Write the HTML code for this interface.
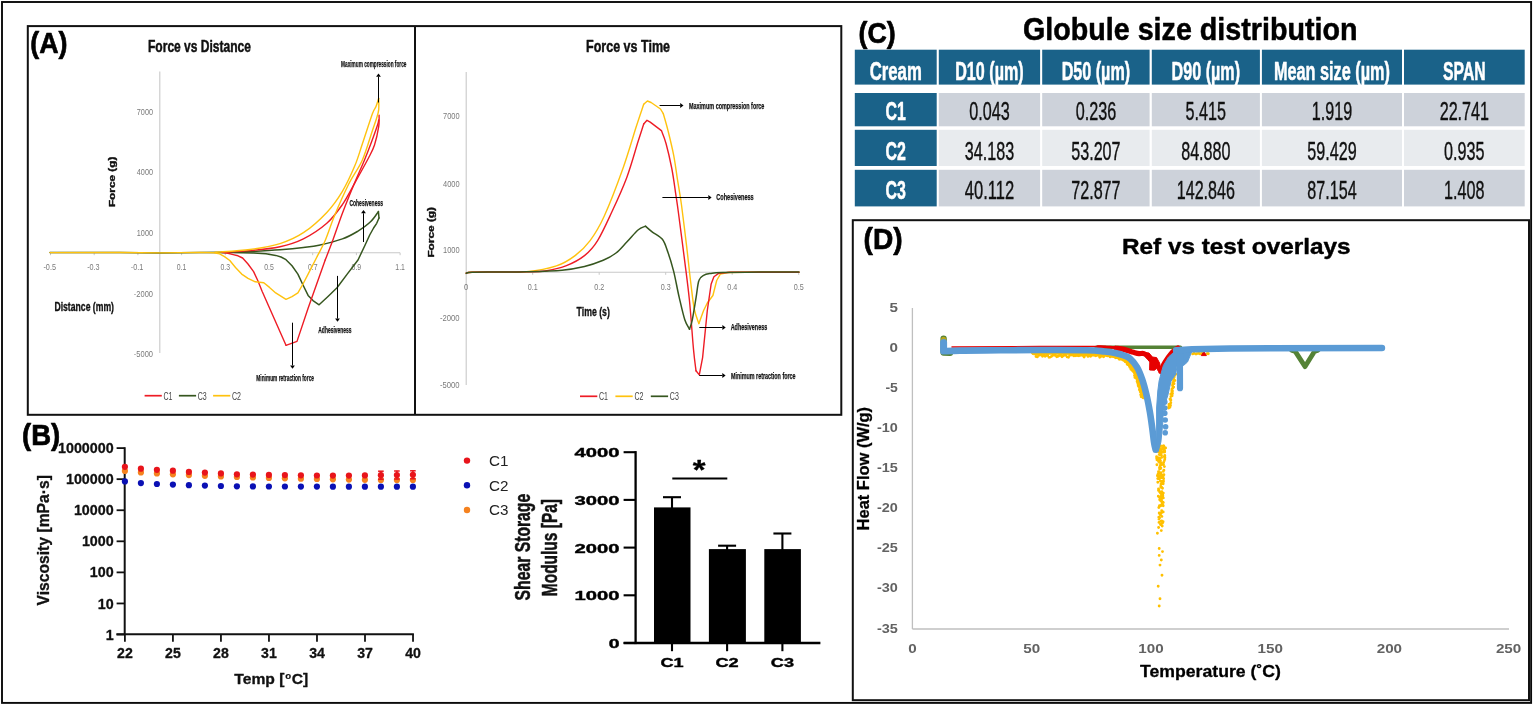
<!DOCTYPE html>
<html><head><meta charset="utf-8"><title>Figure</title>
<style>
html,body{margin:0;padding:0;background:#fff;}
body{width:1533px;height:705px;overflow:hidden;font-family:'Liberation Sans', sans-serif;}
svg{display:block;font-family:"Liberation Sans",sans-serif;filter:blur(0.4px);}
</style></head><body>
<svg width="1533" height="705" viewBox="0 0 1533 705">
<rect width="1533" height="705" fill="#ffffff"/>
<rect x="2" y="2" width="1529.1" height="700.9" fill="none" stroke="#0a0a0a" stroke-width="1.9"/>
<rect x="27.8" y="26.1" width="813.5" height="388.7" fill="none" stroke="#111" stroke-width="2"/>
<line x1="415.00" y1="26.00" x2="415.00" y2="415.00" stroke="#111" stroke-width="2" />
<rect x="852.8" y="220.2" width="676.2" height="480" fill="none" stroke="#111" stroke-width="2"/>
<text x="30.20" y="52.90" font-size="30" fill="#000" font-weight="bold" textLength="37.30" lengthAdjust="spacingAndGlyphs" stroke="#000" stroke-width="0.7" stroke-linejoin="round" >(A)</text>
<text x="148.00" y="51.70" font-size="17" fill="#111" font-weight="bold" textLength="103.00" lengthAdjust="spacingAndGlyphs" stroke="#111" stroke-width="0.5" stroke-linejoin="round" >Force vs Distance</text>
<line x1="159.80" y1="71.50" x2="159.80" y2="353.00" stroke="#c8c8c8" stroke-width="1.1" />
<line x1="50.00" y1="252.70" x2="400.00" y2="252.70" stroke="#c8c8c8" stroke-width="1.1" />
<line x1="50.50" y1="252.70" x2="50.50" y2="255.20" stroke="#c8c8c8" stroke-width="1" />
<line x1="94.20" y1="252.70" x2="94.20" y2="255.20" stroke="#c8c8c8" stroke-width="1" />
<line x1="137.90" y1="252.70" x2="137.90" y2="255.20" stroke="#c8c8c8" stroke-width="1" />
<line x1="181.60" y1="252.70" x2="181.60" y2="255.20" stroke="#c8c8c8" stroke-width="1" />
<line x1="225.30" y1="252.70" x2="225.30" y2="255.20" stroke="#c8c8c8" stroke-width="1" />
<line x1="269.00" y1="252.70" x2="269.00" y2="255.20" stroke="#c8c8c8" stroke-width="1" />
<line x1="312.70" y1="252.70" x2="312.70" y2="255.20" stroke="#c8c8c8" stroke-width="1" />
<line x1="356.40" y1="252.70" x2="356.40" y2="255.20" stroke="#c8c8c8" stroke-width="1" />
<line x1="400.10" y1="252.70" x2="400.10" y2="255.20" stroke="#c8c8c8" stroke-width="1" />
<text x="136.80" y="114.70" font-size="9.5" fill="#7a7a7a" textLength="16.20" lengthAdjust="spacingAndGlyphs" >7000</text>
<text x="136.80" y="174.90" font-size="9.5" fill="#7a7a7a" textLength="16.20" lengthAdjust="spacingAndGlyphs" >4000</text>
<text x="136.80" y="235.60" font-size="9.5" fill="#7a7a7a" textLength="16.20" lengthAdjust="spacingAndGlyphs" >1000</text>
<text x="133.80" y="296.80" font-size="9.5" fill="#7a7a7a" textLength="19.20" lengthAdjust="spacingAndGlyphs" >-2000</text>
<text x="133.80" y="357.00" font-size="9.5" fill="#7a7a7a" textLength="19.20" lengthAdjust="spacingAndGlyphs" >-5000</text>
<text x="43.45" y="270.20" font-size="9.5" fill="#7a7a7a" textLength="12.50" lengthAdjust="spacingAndGlyphs" >-0.5</text>
<text x="87.15" y="270.20" font-size="9.5" fill="#7a7a7a" textLength="12.50" lengthAdjust="spacingAndGlyphs" >-0.3</text>
<text x="130.85" y="270.20" font-size="9.5" fill="#7a7a7a" textLength="12.50" lengthAdjust="spacingAndGlyphs" >-0.1</text>
<text x="176.80" y="270.20" font-size="9.5" fill="#7a7a7a" textLength="9.60" lengthAdjust="spacingAndGlyphs" >0.1</text>
<text x="220.50" y="270.20" font-size="9.5" fill="#7a7a7a" textLength="9.60" lengthAdjust="spacingAndGlyphs" >0.3</text>
<text x="264.20" y="270.20" font-size="9.5" fill="#7a7a7a" textLength="9.60" lengthAdjust="spacingAndGlyphs" >0.5</text>
<text x="307.90" y="270.20" font-size="9.5" fill="#7a7a7a" textLength="9.60" lengthAdjust="spacingAndGlyphs" >0.7</text>
<text x="351.60" y="270.20" font-size="9.5" fill="#7a7a7a" textLength="9.60" lengthAdjust="spacingAndGlyphs" >0.9</text>
<text x="395.30" y="270.20" font-size="9.5" fill="#7a7a7a" textLength="9.60" lengthAdjust="spacingAndGlyphs" >1.1</text>
<text x="54.40" y="310.70" font-size="12.6" fill="#111" font-weight="bold" textLength="59.60" lengthAdjust="spacingAndGlyphs" stroke="#111" stroke-width="0.35" stroke-linejoin="round" >Distance (mm)</text>
<text x="115.20" y="207.10" font-size="9" fill="#111" font-weight="bold" textLength="50.60" lengthAdjust="spacingAndGlyphs" transform="rotate(-90 115.20 207.10)" stroke="#111" stroke-width="0.35" stroke-linejoin="round" >Force (g)</text>
<path d="M50.0 252.6 L120.0 252.5 L160.0 252.9 L200.0 252.4 L222.0 252.3 L253.6 252.9 L266.0 253.8 L275.7 255.4 L281.0 257.0 L286.0 259.7 L292.0 265.8 L297.9 274.1 L303.0 285.0 L308.1 295.4 L313.0 300.6 L319.1 304.8 L328.0 296.5 L337.0 287.8 L347.2 274.1 L358.0 260.0 L365.0 245.2 L369.7 235.0 L373.6 228.0 L376.7 223.3 L379.0 218.0" fill="none" stroke="#36561f" stroke-width="1.5" stroke-linejoin="round" stroke-linecap="round" />
<path d="M379.0 218.0 L378.4 211.6" fill="none" stroke="#36561f" stroke-width="1.5" stroke-linejoin="round" stroke-linecap="round" />
<path d="M222.0 252.6 C226.7 252.4 240.3 252.1 250.0 251.6 C259.7 251.1 271.1 250.5 280.0 249.8 C288.9 249.1 296.9 248.3 303.4 247.5 C309.9 246.7 312.5 246.6 319.0 245.2 C325.5 243.8 335.9 241.2 342.4 238.9 C348.9 236.6 353.3 233.9 358.0 231.1 C362.7 228.2 367.1 225.1 370.5 221.8 C373.9 218.6 377.1 213.3 378.4 211.6" fill="none" stroke="#36561f" stroke-width="1.5" stroke-linejoin="round" stroke-linecap="round" />
<path d="M222.0 252.3 L228.0 253.2 L233.2 254.6 L238.0 255.8 L242.6 258.0 L248.0 264.0 L253.6 271.6 L258.0 281.0 L262.1 291.2 L286.0 345.3" fill="none" stroke="#ee1c25" stroke-width="1.4" stroke-linejoin="round" stroke-linecap="round" />
<path d="M286.0 345.3 L297.0 341.4 L308.1 308.2 L325.2 260.0" fill="none" stroke="#ee1c25" stroke-width="1.4" stroke-linejoin="round" stroke-linecap="round" />
<path d="M325.2 260.0 C326.5 256.6 330.1 247.5 333.0 239.7 C335.9 231.9 339.0 222.2 342.4 213.2 C345.8 204.2 349.6 194.8 353.3 185.9 C357.0 177.0 361.5 167.3 364.5 160.0 C367.5 152.7 369.3 147.9 371.5 142.0 C373.7 136.1 376.5 128.2 377.7 124.5 C378.9 120.8 378.5 120.8 378.6 120.0" fill="none" stroke="#ee1c25" stroke-width="1.4" stroke-linejoin="round" stroke-linecap="round" />
<path d="M222.0 252.3 C226.7 252.0 240.3 251.5 250.0 250.6 C259.7 249.7 271.1 248.6 280.0 246.7 C288.9 244.8 295.6 242.8 303.4 238.9 C311.2 235.0 320.3 229.0 326.8 223.3 C333.3 217.6 337.7 211.3 342.4 204.6 C347.1 197.8 350.5 190.6 354.9 182.8 C359.2 175.0 365.2 164.3 368.5 158.0 C371.8 151.7 372.8 150.2 374.5 145.0 C376.2 139.8 377.9 131.7 378.7 126.7 C379.5 121.8 379.0 117.2 379.1 115.3" fill="none" stroke="#ee1c25" stroke-width="1.4" stroke-linejoin="round" stroke-linecap="round" />
<path d="M50.0 252.6 L120.0 252.5 L160.0 252.9 L200.0 252.4 L214.0 252.8 L219.6 253.9 L224.5 256.6 L229.8 260.5 L235.5 267.5 L241.7 274.1 L248.0 278.4 L255.3 281.8 L263.8 282.7 L269.5 287.4 L275.7 292.9 L286.0 299.3 L292.0 296.6 L297.9 292.9 L303.0 284.0 L308.1 274.1 L317.4 256.0" fill="none" stroke="#ffc20e" stroke-width="1.4" stroke-linejoin="round" stroke-linecap="round" />
<path d="M317.4 256.0 C318.7 253.4 322.3 247.2 325.2 240.5 C328.1 233.8 330.7 224.9 334.6 215.5 C338.5 206.1 344.0 193.6 348.6 184.3 C353.2 175.1 358.4 168.9 362.4 160.0 C366.3 151.1 369.9 137.9 372.3 130.9 C374.7 123.9 375.5 121.8 376.6 118.2 C377.7 114.7 378.4 112.9 378.7 109.6 C379.0 106.3 378.7 100.2 378.7 98.3" fill="none" stroke="#ffc20e" stroke-width="1.4" stroke-linejoin="round" stroke-linecap="round" />
<path d="M215.0 252.3 C220.8 251.8 239.2 250.9 250.0 249.5 C260.8 248.1 271.1 246.4 280.0 243.6 C288.9 240.8 295.6 237.9 303.4 232.7 C311.2 227.5 320.3 219.3 326.8 212.4 C333.3 205.5 337.7 199.1 342.4 191.3 C347.1 183.5 351.6 173.5 354.9 165.6 C358.2 157.7 359.5 152.3 362.4 143.7 C365.3 135.1 370.1 120.1 372.3 113.9 C374.6 107.8 374.8 109.4 375.9 106.8 C377.0 104.2 378.2 99.7 378.7 98.3" fill="none" stroke="#ffc20e" stroke-width="1.4" stroke-linejoin="round" stroke-linecap="round" />
<line x1="378.50" y1="102.50" x2="378.50" y2="76.75" stroke="#000" stroke-width="1.0" />
<polygon points="378.5,73.5 380.9,76.8 376.1,76.8" fill="#000"/>
<text x="341.10" y="66.60" font-size="9.2" fill="#111" font-weight="bold" textLength="65.30" lengthAdjust="spacingAndGlyphs" stroke="#111" stroke-width="0.25" stroke-linejoin="round" >Maximum compression force</text>
<line x1="363.50" y1="242.00" x2="363.50" y2="213.25" stroke="#000" stroke-width="1.0" />
<polygon points="363.5,210.0 365.9,213.3 361.1,213.3" fill="#000"/>
<text x="349.40" y="205.50" font-size="9.2" fill="#111" font-weight="bold" textLength="33.60" lengthAdjust="spacingAndGlyphs" stroke="#111" stroke-width="0.25" stroke-linejoin="round" >Cohesiveness</text>
<line x1="337.50" y1="275.90" x2="337.50" y2="318.55" stroke="#000" stroke-width="1.0" />
<polygon points="337.5,321.8 335.1,318.5 339.9,318.5" fill="#000"/>
<text x="318.30" y="332.70" font-size="9.2" fill="#111" font-weight="bold" textLength="33.20" lengthAdjust="spacingAndGlyphs" stroke="#111" stroke-width="0.25" stroke-linejoin="round" >Adhesiveness</text>
<line x1="292.50" y1="322.70" x2="292.50" y2="365.44" stroke="#000" stroke-width="1.0" />
<polygon points="292.5,368.7 290.1,365.4 294.9,365.4" fill="#000"/>
<text x="256.30" y="381.40" font-size="9.2" fill="#111" font-weight="bold" textLength="57.70" lengthAdjust="spacingAndGlyphs" stroke="#111" stroke-width="0.25" stroke-linejoin="round" >Minimum retraction force</text>
<line x1="144.60" y1="395.70" x2="161.80" y2="395.70" stroke="#ee1c25" stroke-width="1.7" />
<text x="163.40" y="399.70" font-size="10.5" fill="#444" textLength="9.00" lengthAdjust="spacingAndGlyphs" >C1</text>
<line x1="178.90" y1="395.70" x2="196.10" y2="395.70" stroke="#36561f" stroke-width="1.7" />
<text x="197.70" y="399.70" font-size="10.5" fill="#444" textLength="9.00" lengthAdjust="spacingAndGlyphs" >C3</text>
<line x1="213.10" y1="395.70" x2="230.30" y2="395.70" stroke="#ffc20e" stroke-width="1.7" />
<text x="231.90" y="399.70" font-size="10.5" fill="#444" textLength="9.00" lengthAdjust="spacingAndGlyphs" >C2</text>
<text x="586.00" y="51.50" font-size="17" fill="#111" font-weight="bold" textLength="84.00" lengthAdjust="spacingAndGlyphs" stroke="#111" stroke-width="0.5" stroke-linejoin="round" >Force vs Time</text>
<line x1="466.20" y1="72.00" x2="466.20" y2="385.00" stroke="#c8c8c8" stroke-width="1.1" />
<line x1="466.20" y1="272.20" x2="799.00" y2="272.20" stroke="#c8c8c8" stroke-width="1.1" />
<line x1="466.20" y1="272.20" x2="466.20" y2="274.80" stroke="#c8c8c8" stroke-width="1" />
<line x1="532.70" y1="272.20" x2="532.70" y2="274.80" stroke="#c8c8c8" stroke-width="1" />
<line x1="599.20" y1="272.20" x2="599.20" y2="274.80" stroke="#c8c8c8" stroke-width="1" />
<line x1="665.70" y1="272.20" x2="665.70" y2="274.80" stroke="#c8c8c8" stroke-width="1" />
<line x1="732.20" y1="272.20" x2="732.20" y2="274.80" stroke="#c8c8c8" stroke-width="1" />
<line x1="798.70" y1="272.20" x2="798.70" y2="274.80" stroke="#c8c8c8" stroke-width="1" />
<text x="443.00" y="119.30" font-size="9.5" fill="#7a7a7a" textLength="16.60" lengthAdjust="spacingAndGlyphs" >7000</text>
<text x="443.00" y="186.50" font-size="9.5" fill="#7a7a7a" textLength="16.60" lengthAdjust="spacingAndGlyphs" >4000</text>
<text x="443.00" y="253.30" font-size="9.5" fill="#7a7a7a" textLength="16.60" lengthAdjust="spacingAndGlyphs" >1000</text>
<text x="440.00" y="320.70" font-size="9.5" fill="#7a7a7a" textLength="19.60" lengthAdjust="spacingAndGlyphs" >-2000</text>
<text x="440.00" y="387.90" font-size="9.5" fill="#7a7a7a" textLength="19.60" lengthAdjust="spacingAndGlyphs" >-5000</text>
<text x="464.10" y="290.00" font-size="9.5" fill="#7a7a7a" textLength="4.20" lengthAdjust="spacingAndGlyphs" >0</text>
<text x="527.70" y="290.00" font-size="9.5" fill="#7a7a7a" textLength="10.00" lengthAdjust="spacingAndGlyphs" >0.1</text>
<text x="594.20" y="290.00" font-size="9.5" fill="#7a7a7a" textLength="10.00" lengthAdjust="spacingAndGlyphs" >0.2</text>
<text x="660.70" y="290.00" font-size="9.5" fill="#7a7a7a" textLength="10.00" lengthAdjust="spacingAndGlyphs" >0.3</text>
<text x="727.20" y="290.00" font-size="9.5" fill="#7a7a7a" textLength="10.00" lengthAdjust="spacingAndGlyphs" >0.4</text>
<text x="793.70" y="290.00" font-size="9.5" fill="#7a7a7a" textLength="10.00" lengthAdjust="spacingAndGlyphs" >0.5</text>
<text x="576.60" y="316.10" font-size="12.6" fill="#111" font-weight="bold" textLength="33.20" lengthAdjust="spacingAndGlyphs" stroke="#111" stroke-width="0.35" stroke-linejoin="round" >Time (s)</text>
<text x="434.00" y="257.60" font-size="9" fill="#111" font-weight="bold" textLength="50.60" lengthAdjust="spacingAndGlyphs" transform="rotate(-90 434.00 257.60)" stroke="#111" stroke-width="0.35" stroke-linejoin="round" >Force (g)</text>
<path d="M466.2 273.2 C467.2 273.0 466.4 272.4 472.0 272.2 C477.6 272.0 490.9 272.1 500.0 272.0 C509.1 271.9 517.1 272.8 526.5 271.8 C535.9 270.8 548.3 268.6 556.4 265.9 C564.5 263.2 569.5 259.8 575.1 255.6 C580.7 251.4 585.2 247.2 590.1 240.6 C595.0 234.0 598.8 228.1 604.3 216.0 C609.8 203.9 617.8 182.9 623.1 168.0 C628.4 153.1 632.8 137.4 636.2 126.8 C639.6 116.2 642.5 108.0 643.7 104.3" fill="none" stroke="#ffc20e" stroke-width="1.4" stroke-linejoin="round" stroke-linecap="round" />
<path d="M643.7 104.3 L647.4 101.0 L651.1 102.5 L660.5 109.0 L663.3 113.7" fill="none" stroke="#ffc20e" stroke-width="1.4" stroke-linejoin="round" stroke-linecap="round" />
<path d="M663.3 113.7 C664.1 116.5 666.3 123.7 668.0 130.6 C669.7 137.5 672.0 146.8 673.6 154.9 C675.2 163.0 676.1 170.8 677.4 179.2 C678.7 187.5 680.0 193.7 681.5 205.0 C683.0 216.3 685.2 234.2 686.7 246.8 C688.2 259.4 689.2 270.2 690.5 280.5 C691.8 290.8 692.8 301.4 694.2 308.6 C695.6 315.8 698.1 321.1 698.9 323.6" fill="none" stroke="#ffc20e" stroke-width="1.4" stroke-linejoin="round" stroke-linecap="round" />
<path d="M698.9 323.6 L703.6 310.5 L707.3 303.0 L712.9 295.5 L716.7 280.5 L720.4 274.0 L727.9 272.5 L760.0 272.0 L799.0 272.2" fill="none" stroke="#ffc20e" stroke-width="1.4" stroke-linejoin="round" stroke-linecap="round" />
<path d="M466.2 273.2 C467.2 273.0 466.4 272.4 472.0 272.2 C477.6 272.0 490.9 272.1 500.0 272.0 C509.1 271.9 519.0 272.0 526.5 271.8 C534.0 271.6 538.5 272.0 545.0 271.0 C551.5 270.0 559.2 268.5 565.8 265.9 C572.4 263.3 579.2 259.8 584.5 255.6 C589.8 251.4 593.1 247.9 597.6 240.6 C602.1 233.3 606.9 222.5 611.8 212.0 C616.7 201.5 622.4 189.1 626.8 177.4 C631.2 165.7 635.2 150.7 638.0 141.8 C640.8 132.9 642.8 127.0 643.7 124.0" fill="none" stroke="#ee1c25" stroke-width="1.4" stroke-linejoin="round" stroke-linecap="round" />
<path d="M643.7 124.0 L647.0 120.3 L650.2 122.1 L661.4 130.6" fill="none" stroke="#ee1c25" stroke-width="1.4" stroke-linejoin="round" stroke-linecap="round" />
<path d="M661.4 130.6 C662.2 132.8 664.4 137.5 666.1 143.7 C667.8 149.9 670.1 159.9 671.7 168.0 C673.3 176.1 674.4 184.6 675.5 192.3 C676.6 200.0 677.1 202.4 678.6 214.0 C680.1 225.6 683.0 247.5 684.8 261.8 C686.6 276.1 687.9 285.4 689.4 300.0 C690.9 314.6 692.4 337.6 693.5 349.4 C694.6 361.2 695.6 367.2 696.0 370.8" fill="none" stroke="#ee1c25" stroke-width="1.4" stroke-linejoin="round" stroke-linecap="round" />
<path d="M696.0 370.8 L699.3 374.9 L702.6 357.6 L707.3 310.5 L711.1 284.3 L713.9 276.8 L718.6 273.4 L730.0 272.2 L799.0 272.2" fill="none" stroke="#ee1c25" stroke-width="1.4" stroke-linejoin="round" stroke-linecap="round" />
<path d="M466.2 273.2 C467.2 273.0 466.4 272.4 472.0 272.2 C477.6 272.0 490.9 272.1 500.0 272.0 C509.1 271.9 516.2 272.1 526.5 271.8 C536.8 271.5 552.3 271.1 562.0 270.2 C571.7 269.3 577.6 268.0 584.5 266.4 C591.4 264.8 598.0 262.5 603.2 260.3 C608.5 258.1 612.1 256.0 616.0 253.0 C619.9 250.0 623.1 245.9 626.8 242.1 C630.5 238.3 634.9 232.7 638.0 230.0 C641.1 227.3 644.2 226.8 645.5 226.2" fill="none" stroke="#36561f" stroke-width="1.5" stroke-linejoin="round" stroke-linecap="round" />
<path d="M645.5 226.2 C646.6 227.1 649.3 229.6 652.1 231.8 C654.9 234.0 659.8 235.9 662.4 239.3 C665.0 242.7 666.1 247.1 668.0 252.4 C669.9 257.7 671.7 263.6 673.6 271.1 C675.5 278.6 677.3 289.3 679.2 297.4 C681.1 305.5 683.1 314.5 684.8 319.8 C686.5 325.1 688.7 327.6 689.5 329.2" fill="none" stroke="#36561f" stroke-width="1.5" stroke-linejoin="round" stroke-linecap="round" />
<path d="M689.5 329.2 C690.0 327.6 691.2 325.1 692.3 319.8 C693.4 314.5 695.0 303.9 696.1 297.4 C697.2 290.8 697.6 284.2 698.9 280.5 C700.1 276.8 701.6 276.5 703.6 275.3 C705.6 274.1 707.9 273.9 711.0 273.4 C714.1 272.9 714.1 272.7 722.3 272.5 C730.5 272.3 747.2 272.2 760.0 272.1 C772.8 272.0 792.5 272.1 799.0 272.1" fill="none" stroke="#36561f" stroke-width="1.5" stroke-linejoin="round" stroke-linecap="round" />
<line x1="659.60" y1="105.50" x2="680.25" y2="105.50" stroke="#000" stroke-width="1.0" />
<polygon points="683.5,105.5 680.2,107.9 680.2,103.1" fill="#000"/>
<text x="689.00" y="108.80" font-size="9.2" fill="#111" font-weight="bold" textLength="75.40" lengthAdjust="spacingAndGlyphs" stroke="#111" stroke-width="0.25" stroke-linejoin="round" >Maximum compression force</text>
<line x1="662.40" y1="197.50" x2="708.35" y2="197.50" stroke="#000" stroke-width="1.0" />
<polygon points="711.6,197.5 708.3,199.9 708.3,195.1" fill="#000"/>
<text x="716.30" y="200.00" font-size="9.2" fill="#111" font-weight="bold" textLength="37.40" lengthAdjust="spacingAndGlyphs" stroke="#111" stroke-width="0.25" stroke-linejoin="round" >Cohesiveness</text>
<line x1="699.30" y1="327.50" x2="722.45" y2="327.50" stroke="#000" stroke-width="1.0" />
<polygon points="725.7,327.5 722.4,329.9 722.4,325.1" fill="#000"/>
<text x="730.70" y="330.30" font-size="9.2" fill="#111" font-weight="bold" textLength="36.50" lengthAdjust="spacingAndGlyphs" stroke="#111" stroke-width="0.25" stroke-linejoin="round" >Adhesiveness</text>
<line x1="699.30" y1="375.50" x2="722.35" y2="375.50" stroke="#000" stroke-width="1.0" />
<polygon points="725.6,375.5 722.3,377.9 722.3,373.1" fill="#000"/>
<text x="730.90" y="378.50" font-size="9.2" fill="#111" font-weight="bold" textLength="64.70" lengthAdjust="spacingAndGlyphs" stroke="#111" stroke-width="0.25" stroke-linejoin="round" >Minimum retraction force</text>
<line x1="580.00" y1="396.30" x2="597.30" y2="396.30" stroke="#ee1c25" stroke-width="1.7" />
<text x="599.00" y="400.20" font-size="10.5" fill="#444" textLength="9.00" lengthAdjust="spacingAndGlyphs" >C1</text>
<line x1="615.40" y1="396.30" x2="632.70" y2="396.30" stroke="#ffc20e" stroke-width="1.7" />
<text x="634.40" y="400.20" font-size="10.5" fill="#444" textLength="9.00" lengthAdjust="spacingAndGlyphs" >C2</text>
<line x1="650.80" y1="396.30" x2="668.10" y2="396.30" stroke="#36561f" stroke-width="1.7" />
<text x="669.80" y="400.20" font-size="10.5" fill="#444" textLength="9.00" lengthAdjust="spacingAndGlyphs" >C3</text>
<text x="22.00" y="445.40" font-size="30" fill="#000" font-weight="bold" textLength="38.20" lengthAdjust="spacingAndGlyphs" stroke="#000" stroke-width="0.7" stroke-linejoin="round" >(B)</text>
<line x1="124.70" y1="447.20" x2="124.70" y2="634.50" stroke="#111" stroke-width="2" />
<line x1="116.40" y1="634.30" x2="413.90" y2="634.30" stroke="#111" stroke-width="2" />
<line x1="116.60" y1="448.10" x2="124.70" y2="448.10" stroke="#111" stroke-width="1.8" />
<text x="113.70" y="453.20" font-size="14.3" fill="#111" font-weight="bold" text-anchor="end" stroke="#111" stroke-width="0.3" stroke-linejoin="round" >1000000</text>
<line x1="116.60" y1="479.17" x2="124.70" y2="479.17" stroke="#111" stroke-width="1.8" />
<text x="113.70" y="484.27" font-size="14.3" fill="#111" font-weight="bold" text-anchor="end" stroke="#111" stroke-width="0.3" stroke-linejoin="round" >100000</text>
<line x1="116.60" y1="510.24" x2="124.70" y2="510.24" stroke="#111" stroke-width="1.8" />
<text x="113.70" y="515.34" font-size="14.3" fill="#111" font-weight="bold" text-anchor="end" stroke="#111" stroke-width="0.3" stroke-linejoin="round" >10000</text>
<line x1="116.60" y1="541.31" x2="124.70" y2="541.31" stroke="#111" stroke-width="1.8" />
<text x="113.70" y="546.41" font-size="14.3" fill="#111" font-weight="bold" text-anchor="end" stroke="#111" stroke-width="0.3" stroke-linejoin="round" >1000</text>
<line x1="116.60" y1="572.38" x2="124.70" y2="572.38" stroke="#111" stroke-width="1.8" />
<text x="113.70" y="577.48" font-size="14.3" fill="#111" font-weight="bold" text-anchor="end" stroke="#111" stroke-width="0.3" stroke-linejoin="round" >100</text>
<line x1="116.60" y1="603.45" x2="124.70" y2="603.45" stroke="#111" stroke-width="1.8" />
<text x="113.70" y="608.55" font-size="14.3" fill="#111" font-weight="bold" text-anchor="end" stroke="#111" stroke-width="0.3" stroke-linejoin="round" >10</text>
<line x1="116.60" y1="634.52" x2="124.70" y2="634.52" stroke="#111" stroke-width="1.8" />
<text x="113.70" y="639.62" font-size="14.3" fill="#111" font-weight="bold" text-anchor="end" stroke="#111" stroke-width="0.3" stroke-linejoin="round" >1</text>
<line x1="124.90" y1="634.30" x2="124.90" y2="641.70" stroke="#111" stroke-width="1.8" />
<text x="124.90" y="658.20" font-size="14.1" fill="#111" font-weight="bold" text-anchor="middle" stroke="#111" stroke-width="0.3" stroke-linejoin="round" >22</text>
<line x1="172.92" y1="634.30" x2="172.92" y2="641.70" stroke="#111" stroke-width="1.8" />
<text x="172.92" y="658.20" font-size="14.1" fill="#111" font-weight="bold" text-anchor="middle" stroke="#111" stroke-width="0.3" stroke-linejoin="round" >25</text>
<line x1="220.94" y1="634.30" x2="220.94" y2="641.70" stroke="#111" stroke-width="1.8" />
<text x="220.94" y="658.20" font-size="14.1" fill="#111" font-weight="bold" text-anchor="middle" stroke="#111" stroke-width="0.3" stroke-linejoin="round" >28</text>
<line x1="268.96" y1="634.30" x2="268.96" y2="641.70" stroke="#111" stroke-width="1.8" />
<text x="268.96" y="658.20" font-size="14.1" fill="#111" font-weight="bold" text-anchor="middle" stroke="#111" stroke-width="0.3" stroke-linejoin="round" >31</text>
<line x1="316.98" y1="634.30" x2="316.98" y2="641.70" stroke="#111" stroke-width="1.8" />
<text x="316.98" y="658.20" font-size="14.1" fill="#111" font-weight="bold" text-anchor="middle" stroke="#111" stroke-width="0.3" stroke-linejoin="round" >34</text>
<line x1="365.00" y1="634.30" x2="365.00" y2="641.70" stroke="#111" stroke-width="1.8" />
<text x="365.00" y="658.20" font-size="14.1" fill="#111" font-weight="bold" text-anchor="middle" stroke="#111" stroke-width="0.3" stroke-linejoin="round" >37</text>
<line x1="413.02" y1="634.30" x2="413.02" y2="641.70" stroke="#111" stroke-width="1.8" />
<text x="413.02" y="658.20" font-size="14.1" fill="#111" font-weight="bold" text-anchor="middle" stroke="#111" stroke-width="0.3" stroke-linejoin="round" >40</text>
<text x="48.60" y="540.30" font-size="15.7" fill="#111" font-weight="bold" text-anchor="middle" transform="rotate(-90 48.60 540.30)" stroke="#111" stroke-width="0.3" stroke-linejoin="round" >Viscosity [mPa·s]</text>
<text x="234.30" y="684.20" font-size="14.6" fill="#111" font-weight="bold" textLength="50.20" lengthAdjust="spacingAndGlyphs" stroke="#111" stroke-width="0.3" stroke-linejoin="round" >Temp [</text>
<text x="285.20" y="678.60" font-size="9.6" fill="#111" font-weight="bold" textLength="5.90" lengthAdjust="spacingAndGlyphs" stroke="#111" stroke-width="0.2" stroke-linejoin="round" >o</text>
<text x="291.70" y="684.20" font-size="14.6" fill="#111" font-weight="bold" textLength="16.50" lengthAdjust="spacingAndGlyphs" stroke="#111" stroke-width="0.3" stroke-linejoin="round" >C]</text>
<circle cx="124.9" cy="470.9" r="3.1" fill="#f5821f"/>
<circle cx="140.9" cy="472.4" r="3.1" fill="#f5821f"/>
<circle cx="156.9" cy="473.4" r="3.1" fill="#f5821f"/>
<circle cx="172.9" cy="474.3" r="3.1" fill="#f5821f"/>
<circle cx="188.9" cy="475.1" r="3.1" fill="#f5821f"/>
<circle cx="204.9" cy="475.8" r="3.1" fill="#f5821f"/>
<circle cx="220.9" cy="476.4" r="3.1" fill="#f5821f"/>
<circle cx="236.9" cy="477.0" r="3.1" fill="#f5821f"/>
<circle cx="252.9" cy="477.5" r="3.1" fill="#f5821f"/>
<circle cx="268.9" cy="477.9" r="3.1" fill="#f5821f"/>
<circle cx="284.9" cy="478.3" r="3.1" fill="#f5821f"/>
<circle cx="300.9" cy="478.7" r="3.1" fill="#f5821f"/>
<circle cx="316.9" cy="479.0" r="3.1" fill="#f5821f"/>
<circle cx="332.9" cy="479.3" r="3.1" fill="#f5821f"/>
<circle cx="348.9" cy="479.6" r="3.1" fill="#f5821f"/>
<circle cx="364.9" cy="479.8" r="3.1" fill="#f5821f"/>
<circle cx="380.9" cy="480.0" r="3.1" fill="#f5821f"/>
<circle cx="396.9" cy="480.0" r="3.1" fill="#f5821f"/>
<circle cx="412.9" cy="480.0" r="3.1" fill="#f5821f"/>
<circle cx="124.9" cy="466.8" r="3.1" fill="#e8141b"/>
<circle cx="140.9" cy="468.7" r="3.1" fill="#e8141b"/>
<circle cx="156.9" cy="469.8" r="3.1" fill="#e8141b"/>
<circle cx="172.9" cy="470.7" r="3.1" fill="#e8141b"/>
<circle cx="188.9" cy="471.9" r="3.1" fill="#e8141b"/>
<circle cx="204.9" cy="472.6" r="3.1" fill="#e8141b"/>
<circle cx="220.9" cy="473.4" r="3.1" fill="#e8141b"/>
<circle cx="236.9" cy="474.3" r="3.1" fill="#e8141b"/>
<circle cx="252.9" cy="474.6" r="3.1" fill="#e8141b"/>
<circle cx="268.9" cy="474.9" r="3.1" fill="#e8141b"/>
<circle cx="284.9" cy="475.1" r="3.1" fill="#e8141b"/>
<circle cx="300.9" cy="475.3" r="3.1" fill="#e8141b"/>
<circle cx="316.9" cy="475.5" r="3.1" fill="#e8141b"/>
<circle cx="332.9" cy="475.6" r="3.1" fill="#e8141b"/>
<circle cx="348.9" cy="475.6" r="3.1" fill="#e8141b"/>
<circle cx="364.9" cy="475.4" r="3.1" fill="#e8141b"/>
<circle cx="380.9" cy="475.2" r="3.1" fill="#e8141b"/>
<line x1="380.90" y1="471.00" x2="380.90" y2="479.40" stroke="#e8141b" stroke-width="1.5" />
<line x1="378.10" y1="471.20" x2="383.70" y2="471.20" stroke="#e8141b" stroke-width="1.5" />
<line x1="378.10" y1="479.20" x2="383.70" y2="479.20" stroke="#e8141b" stroke-width="1.5" />
<circle cx="396.9" cy="475.0" r="3.1" fill="#e8141b"/>
<line x1="396.90" y1="470.80" x2="396.90" y2="479.20" stroke="#e8141b" stroke-width="1.5" />
<line x1="394.10" y1="471.00" x2="399.70" y2="471.00" stroke="#e8141b" stroke-width="1.5" />
<line x1="394.10" y1="479.00" x2="399.70" y2="479.00" stroke="#e8141b" stroke-width="1.5" />
<circle cx="412.9" cy="474.8" r="3.1" fill="#e8141b"/>
<line x1="412.90" y1="470.60" x2="412.90" y2="479.00" stroke="#e8141b" stroke-width="1.5" />
<line x1="410.10" y1="470.80" x2="415.70" y2="470.80" stroke="#e8141b" stroke-width="1.5" />
<line x1="410.10" y1="478.80" x2="415.70" y2="478.80" stroke="#e8141b" stroke-width="1.5" />
<circle cx="124.9" cy="481.4" r="3.1" fill="#0a10b4"/>
<circle cx="140.9" cy="483.1" r="3.1" fill="#0a10b4"/>
<circle cx="156.9" cy="484.0" r="3.1" fill="#0a10b4"/>
<circle cx="172.9" cy="484.6" r="3.1" fill="#0a10b4"/>
<circle cx="188.9" cy="485.2" r="3.1" fill="#0a10b4"/>
<circle cx="204.9" cy="485.6" r="3.1" fill="#0a10b4"/>
<circle cx="220.9" cy="486.0" r="3.1" fill="#0a10b4"/>
<circle cx="236.9" cy="486.3" r="3.1" fill="#0a10b4"/>
<circle cx="252.9" cy="486.4" r="3.1" fill="#0a10b4"/>
<circle cx="268.9" cy="486.5" r="3.1" fill="#0a10b4"/>
<circle cx="284.9" cy="486.5" r="3.1" fill="#0a10b4"/>
<circle cx="300.9" cy="486.6" r="3.1" fill="#0a10b4"/>
<circle cx="316.9" cy="486.6" r="3.1" fill="#0a10b4"/>
<circle cx="332.9" cy="486.7" r="3.1" fill="#0a10b4"/>
<circle cx="348.9" cy="486.7" r="3.1" fill="#0a10b4"/>
<circle cx="364.9" cy="486.7" r="3.1" fill="#0a10b4"/>
<circle cx="380.9" cy="486.7" r="3.1" fill="#0a10b4"/>
<circle cx="396.9" cy="486.7" r="3.1" fill="#0a10b4"/>
<circle cx="412.9" cy="486.7" r="3.1" fill="#0a10b4"/>
<circle cx="467" cy="460.6" r="3.2" fill="#e8141b"/>
<text x="489.00" y="465.90" font-size="15.2" fill="#222" >C1</text>
<circle cx="467" cy="485.3" r="3.2" fill="#0a10b4"/>
<text x="489.00" y="490.60" font-size="15.2" fill="#222" >C2</text>
<circle cx="467" cy="510" r="3.2" fill="#f5821f"/>
<text x="489.00" y="515.30" font-size="15.2" fill="#222" >C3</text>
<line x1="635.60" y1="451.10" x2="635.60" y2="644.10" stroke="#000" stroke-width="2.3" />
<line x1="623.60" y1="643.00" x2="820.40" y2="643.00" stroke="#000" stroke-width="2.3" />
<line x1="623.60" y1="452.20" x2="635.60" y2="452.20" stroke="#000" stroke-width="2.1" />
<text x="574.50" y="457.10" font-size="13.6" fill="#000" font-weight="bold" textLength="45.00" lengthAdjust="spacingAndGlyphs" stroke="#000" stroke-width="0.4" stroke-linejoin="round" >4000</text>
<line x1="623.60" y1="499.90" x2="635.60" y2="499.90" stroke="#000" stroke-width="2.1" />
<text x="574.50" y="504.80" font-size="13.6" fill="#000" font-weight="bold" textLength="45.00" lengthAdjust="spacingAndGlyphs" stroke="#000" stroke-width="0.4" stroke-linejoin="round" >3000</text>
<line x1="623.60" y1="547.60" x2="635.60" y2="547.60" stroke="#000" stroke-width="2.1" />
<text x="574.50" y="552.50" font-size="13.6" fill="#000" font-weight="bold" textLength="45.00" lengthAdjust="spacingAndGlyphs" stroke="#000" stroke-width="0.4" stroke-linejoin="round" >2000</text>
<line x1="623.60" y1="595.30" x2="635.60" y2="595.30" stroke="#000" stroke-width="2.1" />
<text x="574.50" y="600.20" font-size="13.6" fill="#000" font-weight="bold" textLength="45.00" lengthAdjust="spacingAndGlyphs" stroke="#000" stroke-width="0.4" stroke-linejoin="round" >1000</text>
<line x1="623.60" y1="643.00" x2="635.60" y2="643.00" stroke="#000" stroke-width="2.1" />
<text x="608.70" y="647.90" font-size="13.6" fill="#000" font-weight="bold" textLength="10.80" lengthAdjust="spacingAndGlyphs" stroke="#000" stroke-width="0.4" stroke-linejoin="round" >0</text>
<rect x="654" y="507.4" width="36.5" height="136.1" fill="#000"/>
<line x1="672.00" y1="497.20" x2="672.00" y2="508.40" stroke="#000" stroke-width="2.1" />
<line x1="663.00" y1="497.20" x2="681.00" y2="497.20" stroke="#000" stroke-width="2.1" />
<line x1="672.00" y1="643.00" x2="672.00" y2="651.20" stroke="#000" stroke-width="2.1" />
<text x="660.40" y="666.70" font-size="13.6" fill="#000" font-weight="bold" textLength="23.20" lengthAdjust="spacingAndGlyphs" stroke="#000" stroke-width="0.4" stroke-linejoin="round" >C1</text>
<rect x="708.9" y="549.1" width="37.0" height="94.4" fill="#000"/>
<line x1="727.10" y1="545.70" x2="727.10" y2="550.10" stroke="#000" stroke-width="2.1" />
<line x1="718.10" y1="545.70" x2="736.10" y2="545.70" stroke="#000" stroke-width="2.1" />
<line x1="727.10" y1="643.00" x2="727.10" y2="651.20" stroke="#000" stroke-width="2.1" />
<text x="715.50" y="666.70" font-size="13.6" fill="#000" font-weight="bold" textLength="23.20" lengthAdjust="spacingAndGlyphs" stroke="#000" stroke-width="0.4" stroke-linejoin="round" >C2</text>
<rect x="764.3" y="549.1" width="36.6" height="94.4" fill="#000"/>
<line x1="782.40" y1="533.50" x2="782.40" y2="550.10" stroke="#000" stroke-width="2.1" />
<line x1="773.40" y1="533.50" x2="791.40" y2="533.50" stroke="#000" stroke-width="2.1" />
<line x1="782.40" y1="643.00" x2="782.40" y2="651.20" stroke="#000" stroke-width="2.1" />
<text x="770.80" y="666.70" font-size="13.6" fill="#000" font-weight="bold" textLength="23.20" lengthAdjust="spacingAndGlyphs" stroke="#000" stroke-width="0.4" stroke-linejoin="round" >C3</text>
<line x1="672.30" y1="478.50" x2="727.30" y2="478.50" stroke="#000" stroke-width="2" />
<text x="692.80" y="479.40" font-size="28" fill="#000" font-weight="bold" textLength="12.80" lengthAdjust="spacingAndGlyphs" stroke="#000" stroke-width="0.3" stroke-linejoin="round" >*</text>
<text x="530.50" y="600.40" font-size="22" fill="#111" font-weight="bold" textLength="106.60" lengthAdjust="spacingAndGlyphs" transform="rotate(-90 530.50 600.40)" stroke="#111" stroke-width="0.5" stroke-linejoin="round" >Shear Storage</text>
<text x="557.30" y="596.20" font-size="22" fill="#111" font-weight="bold" textLength="97.20" lengthAdjust="spacingAndGlyphs" transform="rotate(-90 557.30 596.20)" stroke="#111" stroke-width="0.5" stroke-linejoin="round" >Modulus [Pa]</text>
<text x="858.50" y="42.70" font-size="30" fill="#000" font-weight="bold" textLength="37.20" lengthAdjust="spacingAndGlyphs" stroke="#000" stroke-width="0.7" stroke-linejoin="round" >(C)</text>
<text x="1022.90" y="39.70" font-size="30.5" fill="#000" font-weight="bold" textLength="334.70" lengthAdjust="spacingAndGlyphs" stroke="#000" stroke-width="0.5" stroke-linejoin="round" >Globule size distribution</text>
<rect x="854.8" y="49.7" width="81.9" height="34.9" fill="#1a6289"/>
<text x="869.70" y="80.20" font-size="25.5" fill="#fff" font-weight="bold" textLength="52.10" lengthAdjust="spacingAndGlyphs" stroke="#fff" stroke-width="0.55" stroke-linejoin="round" >Cream</text>
<rect x="938.8" y="49.7" width="101.3" height="34.9" fill="#1a6289"/>
<text x="955.20" y="80.20" font-size="25.5" fill="#fff" font-weight="bold" textLength="68.50" lengthAdjust="spacingAndGlyphs" stroke="#fff" stroke-width="0.55" stroke-linejoin="round" >D10 (µm)</text>
<rect x="1042.2" y="49.7" width="107.4" height="34.9" fill="#1a6289"/>
<text x="1061.65" y="80.20" font-size="25.5" fill="#fff" font-weight="bold" textLength="68.50" lengthAdjust="spacingAndGlyphs" stroke="#fff" stroke-width="0.55" stroke-linejoin="round" >D50 (µm)</text>
<rect x="1151.8" y="49.7" width="108.1" height="34.9" fill="#1a6289"/>
<text x="1171.60" y="80.20" font-size="25.5" fill="#fff" font-weight="bold" textLength="68.50" lengthAdjust="spacingAndGlyphs" stroke="#fff" stroke-width="0.55" stroke-linejoin="round" >D90 (µm)</text>
<rect x="1261.9" y="49.7" width="140.1" height="34.9" fill="#1a6289"/>
<text x="1273.90" y="80.20" font-size="25.5" fill="#fff" font-weight="bold" textLength="116.10" lengthAdjust="spacingAndGlyphs" stroke="#fff" stroke-width="0.55" stroke-linejoin="round" >Mean size (µm)</text>
<rect x="1404" y="49.7" width="120.7" height="34.9" fill="#1a6289"/>
<text x="1443.05" y="80.20" font-size="25.5" fill="#fff" font-weight="bold" textLength="42.60" lengthAdjust="spacingAndGlyphs" stroke="#fff" stroke-width="0.55" stroke-linejoin="round" >SPAN</text>
<rect x="854.8" y="93" width="81.9" height="33.3" fill="#1a6289"/>
<text x="885.55" y="120.40" font-size="26.5" fill="#fff" font-weight="bold" textLength="20.40" lengthAdjust="spacingAndGlyphs" stroke="#fff" stroke-width="0.55" stroke-linejoin="round" >C1</text>
<rect x="938.8" y="93" width="101.3" height="33.3" fill="#cdd2da"/>
<text x="969.20" y="120.40" font-size="26.5" fill="#111" textLength="40.50" lengthAdjust="spacingAndGlyphs" stroke="#111" stroke-width="0.4" stroke-linejoin="round" >0.043</text>
<rect x="1042.2" y="93" width="107.4" height="33.3" fill="#cdd2da"/>
<text x="1075.65" y="120.40" font-size="26.5" fill="#111" textLength="40.50" lengthAdjust="spacingAndGlyphs" stroke="#111" stroke-width="0.4" stroke-linejoin="round" >0.236</text>
<rect x="1151.8" y="93" width="108.1" height="33.3" fill="#cdd2da"/>
<text x="1185.60" y="120.40" font-size="26.5" fill="#111" textLength="40.50" lengthAdjust="spacingAndGlyphs" stroke="#111" stroke-width="0.4" stroke-linejoin="round" >5.415</text>
<rect x="1261.9" y="93" width="140.1" height="33.3" fill="#cdd2da"/>
<text x="1311.70" y="120.40" font-size="26.5" fill="#111" textLength="40.50" lengthAdjust="spacingAndGlyphs" stroke="#111" stroke-width="0.4" stroke-linejoin="round" >1.919</text>
<rect x="1404" y="93" width="120.7" height="33.3" fill="#cdd2da"/>
<text x="1439.65" y="120.40" font-size="26.5" fill="#111" textLength="49.40" lengthAdjust="spacingAndGlyphs" stroke="#111" stroke-width="0.4" stroke-linejoin="round" >22.741</text>
<rect x="854.8" y="129.8" width="81.9" height="36.2" fill="#1a6289"/>
<text x="885.55" y="159.90" font-size="26.5" fill="#fff" font-weight="bold" textLength="20.40" lengthAdjust="spacingAndGlyphs" stroke="#fff" stroke-width="0.55" stroke-linejoin="round" >C2</text>
<rect x="938.8" y="129.8" width="101.3" height="36.2" fill="#e8ebee"/>
<text x="964.75" y="159.90" font-size="26.5" fill="#111" textLength="49.40" lengthAdjust="spacingAndGlyphs" stroke="#111" stroke-width="0.4" stroke-linejoin="round" >34.183</text>
<rect x="1042.2" y="129.8" width="107.4" height="36.2" fill="#e8ebee"/>
<text x="1071.20" y="159.90" font-size="26.5" fill="#111" textLength="49.40" lengthAdjust="spacingAndGlyphs" stroke="#111" stroke-width="0.4" stroke-linejoin="round" >53.207</text>
<rect x="1151.8" y="129.8" width="108.1" height="36.2" fill="#e8ebee"/>
<text x="1181.15" y="159.90" font-size="26.5" fill="#111" textLength="49.40" lengthAdjust="spacingAndGlyphs" stroke="#111" stroke-width="0.4" stroke-linejoin="round" >84.880</text>
<rect x="1261.9" y="129.8" width="140.1" height="36.2" fill="#e8ebee"/>
<text x="1307.25" y="159.90" font-size="26.5" fill="#111" textLength="49.40" lengthAdjust="spacingAndGlyphs" stroke="#111" stroke-width="0.4" stroke-linejoin="round" >59.429</text>
<rect x="1404" y="129.8" width="120.7" height="36.2" fill="#e8ebee"/>
<text x="1444.10" y="159.90" font-size="26.5" fill="#111" textLength="40.50" lengthAdjust="spacingAndGlyphs" stroke="#111" stroke-width="0.4" stroke-linejoin="round" >0.935</text>
<rect x="854.8" y="169.8" width="81.9" height="36.6" fill="#1a6289"/>
<text x="885.55" y="198.80" font-size="26.5" fill="#fff" font-weight="bold" textLength="20.40" lengthAdjust="spacingAndGlyphs" stroke="#fff" stroke-width="0.55" stroke-linejoin="round" >C3</text>
<rect x="938.8" y="169.8" width="101.3" height="36.6" fill="#cdd2da"/>
<text x="964.75" y="198.80" font-size="26.5" fill="#111" textLength="49.40" lengthAdjust="spacingAndGlyphs" stroke="#111" stroke-width="0.4" stroke-linejoin="round" >40.112</text>
<rect x="1042.2" y="169.8" width="107.4" height="36.6" fill="#cdd2da"/>
<text x="1071.20" y="198.80" font-size="26.5" fill="#111" textLength="49.40" lengthAdjust="spacingAndGlyphs" stroke="#111" stroke-width="0.4" stroke-linejoin="round" >72.877</text>
<rect x="1151.8" y="169.8" width="108.1" height="36.6" fill="#cdd2da"/>
<text x="1176.70" y="198.80" font-size="26.5" fill="#111" textLength="58.30" lengthAdjust="spacingAndGlyphs" stroke="#111" stroke-width="0.4" stroke-linejoin="round" >142.846</text>
<rect x="1261.9" y="169.8" width="140.1" height="36.6" fill="#cdd2da"/>
<text x="1307.25" y="198.80" font-size="26.5" fill="#111" textLength="49.40" lengthAdjust="spacingAndGlyphs" stroke="#111" stroke-width="0.4" stroke-linejoin="round" >87.154</text>
<rect x="1404" y="169.8" width="120.7" height="36.6" fill="#cdd2da"/>
<text x="1444.10" y="198.80" font-size="26.5" fill="#111" textLength="40.50" lengthAdjust="spacingAndGlyphs" stroke="#111" stroke-width="0.4" stroke-linejoin="round" >1.408</text>
<text x="863.60" y="249.20" font-size="30" fill="#000" font-weight="bold" textLength="39.00" lengthAdjust="spacingAndGlyphs" stroke="#000" stroke-width="0.7" stroke-linejoin="round" >(D)</text>
<text x="1121.90" y="254.20" font-size="22" fill="#000" font-weight="bold" textLength="228.70" lengthAdjust="spacingAndGlyphs" stroke="#000" stroke-width="0.4" stroke-linejoin="round" >Ref vs test overlays</text>
<line x1="912.40" y1="308.00" x2="912.40" y2="629.00" stroke="#bfbfbf" stroke-width="1.3" />
<line x1="912.40" y1="629.00" x2="1509.00" y2="629.00" stroke="#bfbfbf" stroke-width="1.3" />
<text x="889.45" y="311.70" font-size="12.5" fill="#626262" font-weight="bold" textLength="8.45" lengthAdjust="spacingAndGlyphs" >5</text>
<text x="889.45" y="351.80" font-size="12.5" fill="#626262" font-weight="bold" textLength="8.45" lengthAdjust="spacingAndGlyphs" >0</text>
<text x="885.45" y="391.90" font-size="12.5" fill="#626262" font-weight="bold" textLength="12.45" lengthAdjust="spacingAndGlyphs" >-5</text>
<text x="877.00" y="432.00" font-size="12.5" fill="#626262" font-weight="bold" textLength="20.90" lengthAdjust="spacingAndGlyphs" >-10</text>
<text x="877.00" y="472.10" font-size="12.5" fill="#626262" font-weight="bold" textLength="20.90" lengthAdjust="spacingAndGlyphs" >-15</text>
<text x="877.00" y="512.20" font-size="12.5" fill="#626262" font-weight="bold" textLength="20.90" lengthAdjust="spacingAndGlyphs" >-20</text>
<text x="877.00" y="552.30" font-size="12.5" fill="#626262" font-weight="bold" textLength="20.90" lengthAdjust="spacingAndGlyphs" >-25</text>
<text x="877.00" y="592.40" font-size="12.5" fill="#626262" font-weight="bold" textLength="20.90" lengthAdjust="spacingAndGlyphs" >-30</text>
<text x="877.00" y="632.50" font-size="12.5" fill="#626262" font-weight="bold" textLength="20.90" lengthAdjust="spacingAndGlyphs" >-35</text>
<text x="908.38" y="652.50" font-size="12.5" fill="#626262" font-weight="bold" textLength="8.45" lengthAdjust="spacingAndGlyphs" >0</text>
<text x="1023.35" y="652.50" font-size="12.5" fill="#626262" font-weight="bold" textLength="16.90" lengthAdjust="spacingAndGlyphs" >50</text>
<text x="1138.33" y="652.50" font-size="12.5" fill="#626262" font-weight="bold" textLength="25.35" lengthAdjust="spacingAndGlyphs" >100</text>
<text x="1257.53" y="652.50" font-size="12.5" fill="#626262" font-weight="bold" textLength="25.35" lengthAdjust="spacingAndGlyphs" >150</text>
<text x="1376.73" y="652.50" font-size="12.5" fill="#626262" font-weight="bold" textLength="25.35" lengthAdjust="spacingAndGlyphs" >200</text>
<text x="1495.92" y="652.50" font-size="12.5" fill="#626262" font-weight="bold" textLength="25.35" lengthAdjust="spacingAndGlyphs" >250</text>
<text x="1140.00" y="676.80" font-size="16.5" fill="#000" font-weight="bold" textLength="140.90" lengthAdjust="spacingAndGlyphs" stroke="#000" stroke-width="0.3" stroke-linejoin="round" >Temperature (˚C)</text>
<text x="868.90" y="530.40" font-size="16.5" fill="#000" font-weight="bold" textLength="123.50" lengthAdjust="spacingAndGlyphs" transform="rotate(-90 868.90 530.40)" stroke="#000" stroke-width="0.3" stroke-linejoin="round" >Heat Flow (W/g)</text>
<path d="M1036.0 352.6 C1036.3 352.5 1029.6 352.0 1037.7 351.9 C1045.8 351.8 1073.9 351.8 1084.7 352.1 C1095.5 352.3 1097.4 352.9 1102.3 353.4 C1107.2 353.9 1110.8 354.4 1114.0 355.1 C1117.2 355.8 1119.4 356.5 1121.7 357.4 C1124.0 358.3 1125.7 358.6 1127.9 360.6 C1130.1 362.5 1132.7 365.7 1134.7 369.1 C1136.7 372.5 1138.2 376.4 1139.8 381.0 C1141.4 385.6 1143.4 393.8 1144.1 396.4" fill="none" stroke="#ffc000" stroke-width="5.8" stroke-linejoin="round" stroke-linecap="round" />
<path d="M1036.0 356.5h0M1037.3 356.9h0M1038.6 355.4h0M1039.9 355.0h0M1041.2 354.9h0M1042.5 356.3h0M1043.8 355.3h0M1045.1 356.3h0M1046.4 355.5h0M1047.7 355.5h0M1049.0 357.2h0M1050.3 357.1h0M1051.6 356.3h0M1052.9 355.2h0M1054.2 355.1h0M1055.5 355.5h0M1056.8 356.7h0M1058.1 356.3h0M1059.4 355.6h0M1060.7 355.2h0M1062.0 356.7h0M1063.3 355.7h0M1064.6 355.1h0M1065.9 355.4h0M1067.2 356.9h0M1068.5 357.2h0M1069.8 355.3h0M1071.1 355.1h0M1072.4 354.9h0M1073.7 355.7h0M1075.0 355.8h0M1076.3 355.6h0M1077.6 355.5h0M1078.9 355.7h0M1080.2 355.4h0M1081.5 355.0h0M1082.8 355.5h0M1084.1 357.0h0M1085.4 355.3h0M1086.7 354.9h0M1088.0 356.4h0M1089.3 355.0h0M1090.6 356.3h0M1091.9 355.3h0M1093.2 355.0h0M1094.5 355.4h0M1095.8 355.7h0M1097.1 355.2h0M1098.4 355.3h0M1099.7 357.2h0M1101.0 356.4h0M1102.3 355.1h0M1103.6 356.8h0M1104.9 354.9h0M1106.2 355.3h0M1107.5 355.9h0M1108.8 355.4h0M1110.1 356.9h0M1111.4 355.8h0M1112.7 355.8h0M1114.0 355.3h0M1115.3 355.0h0M1116.6 356.3h0M1117.9 356.4h0M1112.1 355.8h0M1113.5 356.2h0M1114.5 356.8h0M1115.7 357.7h0M1116.2 357.2h0M1117.6 357.8h0M1118.6 357.8h0M1119.3 359.2h0M1120.7 359.1h0M1122.1 359.2h0M1122.9 359.9h0M1123.4 360.3h0M1125.2 361.8h0M1125.8 361.4h0M1126.4 362.1h0M1127.1 364.1h0M1127.5 364.6h0M1128.8 365.0h0M1129.5 366.4h0M1129.8 367.2h0M1130.7 367.4h0M1130.9 369.2h0M1131.6 369.8h0M1132.3 370.6h0M1133.3 371.4h0M1133.7 371.9h0M1134.5 373.3h0M1134.7 374.9h0M1134.5 375.6h0M1134.9 377.4h0M1135.4 377.7h0M1136.6 378.6h0M1137.1 379.7h0M1137.1 381.6h0M1137.4 382.2h0M1137.9 383.7h0M1138.7 384.6h0M1138.2 385.8h0M1138.7 386.6h0M1139.6 388.0h0M1139.7 389.2h0M1139.4 389.8h0M1140.3 391.5h0M1140.2 391.7h0M1141.1 392.8h0M1140.7 394.7h0M1141.7 395.8h0M1141.2 396.7h0M1161.2 464.9h0M1156.2 451.0h0M1161.6 521.0h0M1163.6 478.8h0M1163.5 471.3h0M1159.3 506.3h0M1159.0 458.1h0M1161.6 457.4h0M1160.1 458.6h0M1164.7 451.0h0M1160.5 465.2h0M1163.2 483.7h0M1163.9 470.2h0M1161.0 476.7h0M1157.7 478.6h0M1158.5 471.8h0M1163.8 446.0h0M1160.6 453.3h0M1161.1 496.5h0M1160.9 463.2h0M1162.6 481.3h0M1161.4 449.8h0M1158.9 457.9h0M1160.8 501.0h0M1162.4 481.8h0M1160.5 514.9h0M1160.8 486.2h0M1162.1 477.6h0M1161.0 472.7h0M1163.9 474.8h0M1162.8 494.1h0M1159.5 518.0h0M1163.5 481.6h0M1158.9 507.6h0M1160.2 450.5h0M1158.3 448.3h0M1162.5 448.3h0M1162.9 502.2h0M1162.8 452.3h0M1158.9 490.5h0M1163.2 511.9h0M1164.8 456.1h0M1160.7 468.5h0M1162.5 522.9h0M1160.2 452.7h0M1159.7 477.9h0M1159.2 454.6h0M1158.3 496.3h0M1160.4 481.1h0M1159.1 446.3h0M1160.9 487.3h0M1165.6 447.9h0M1163.3 502.6h0M1158.5 449.7h0M1163.6 447.0h0M1157.6 459.3h0M1163.8 470.4h0M1159.5 505.6h0M1164.7 452.0h0M1162.0 482.6h0M1156.5 449.0h0M1160.4 493.1h0M1165.1 448.3h0M1162.5 488.2h0M1164.3 448.7h0M1164.3 448.0h0M1159.7 472.8h0M1163.5 481.1h0M1157.6 459.2h0M1159.1 478.8h0M1157.6 449.9h0M1157.9 447.4h0M1159.2 462.2h0M1159.7 499.8h0M1158.6 476.6h0M1156.9 464.7h0M1156.6 458.0h0M1161.1 497.3h0M1160.6 454.3h0M1158.8 517.2h0M1160.4 505.6h0M1163.1 476.2h0M1160.9 468.1h0M1163.3 493.1h0M1163.5 464.4h0M1161.5 494.8h0M1159.6 469.0h0M1157.2 447.5h0M1163.2 448.2h0M1157.9 458.4h0M1164.1 448.8h0M1161.7 510.7h0M1158.6 460.1h0M1160.5 460.9h0M1160.3 452.4h0M1164.8 458.9h0M1161.0 521.1h0M1164.9 457.6h0M1159.6 462.0h0M1159.6 446.0h0M1160.8 474.5h0M1160.8 454.9h0M1158.4 446.1h0M1159.8 449.0h0M1156.1 447.1h0M1158.6 461.6h0M1161.0 483.9h0M1161.6 498.9h0M1162.8 495.7h0M1159.5 467.8h0M1159.0 522.4h0M1161.5 496.5h0M1164.1 447.1h0M1161.5 512.8h0M1162.4 497.4h0M1161.0 451.5h0M1163.0 477.0h0M1162.5 504.2h0M1163.1 483.7h0M1161.8 492.6h0M1156.6 456.7h0M1159.5 451.1h0M1164.0 449.7h0M1161.6 481.5h0M1161.8 487.5h0M1157.4 475.7h0M1162.1 503.5h0M1161.0 476.8h0M1158.5 490.4h0M1159.5 497.6h0M1158.5 448.3h0M1159.3 496.9h0M1163.3 497.9h0M1160.0 476.1h0M1162.1 474.9h0M1161.4 500.5h0M1158.5 489.0h0M1158.5 451.9h0M1159.8 498.3h0M1157.8 482.3h0M1158.5 447.8h0M1161.8 491.6h0M1159.7 491.9h0M1160.6 478.0h0M1158.1 473.9h0M1159.2 513.0h0M1163.1 521.7h0M1160.4 446.3h0M1163.2 505.7h0M1159.1 472.5h0M1164.8 455.5h0M1161.5 455.5h0M1161.0 451.6h0M1158.9 519.1h0M1160.8 505.7h0M1161.9 512.3h0M1164.3 456.8h0M1157.5 475.5h0M1160.7 446.0h0M1159.4 472.6h0M1159.3 451.5h0M1163.6 462.5h0M1163.3 446.0h0M1158.8 507.6h0M1161.9 516.4h0M1159.7 513.8h0M1160.0 466.5h0M1161.3 523.9h0M1160.2 465.7h0M1156.9 459.7h0M1164.0 449.6h0M1164.5 460.4h0M1158.8 458.0h0M1158.7 477.5h0M1164.4 466.6h0M1161.3 530.6h0M1157.4 533.2h0M1159.2 548.5h0M1162.5 551.6h0M1159.2 555.4h0M1161.3 560.0h0M1160.0 565.1h0M1162.0 575.3h0M1158.2 586.3h0M1160.0 598.8h0M1159.2 606.0h0M1160.5 524.5h0M1158.6 527.5h0M1162.2 526.0h0M1170.3 404.8h0M1172.1 395.7h0M1169.5 406.9h0M1170.0 398.9h0M1170.7 399.4h0M1170.9 400.1h0M1172.8 383.3h0M1168.8 406.4h0M1172.1 390.0h0M1174.0 383.7h0M1168.7 408.1h0M1170.9 396.6h0M1171.7 393.1h0M1173.8 379.0h0M1174.9 380.5h0M1171.8 390.9h0M1170.5 405.6h0M1171.9 389.2h0M1173.5 379.9h0M1172.5 385.3h0M1173.5 381.6h0M1172.5 393.5h0M1170.5 400.0h0M1172.9 387.9h0M1172.8 386.6h0M1174.7 375.2h0M1168.5 407.8h0M1172.5 391.1h0M1169.4 404.1h0M1173.3 382.8h0M1172.8 387.4h0M1169.9 407.3h0M1169.0 404.4h0M1175.7 374.2h0M1169.6 405.2h0M1170.8 394.1h0M1173.7 387.1h0M1170.8 402.7h0M1168.7 408.0h0M1174.2 376.9h0M1200.9 353.8h0M1208.0 353.8h0M1203.0 353.9h0M1199.8 353.7h0M1192.7 353.9h0M1196.0 354.0h0M1203.0 353.5h0M1194.2 353.4h0M1202.8 353.8h0M1193.9 353.3h0M1200.9 353.7h0M1198.6 353.4h0M1202.2 353.2h0M1197.1 353.6h0M1208.3 353.8h0M1207.0 353.6h0" stroke="#ffc000" stroke-width="2.9" stroke-linecap="round" fill="none"/>
<path d="M943.6 338.8 L943.6 352.6 L950.0 352.9" fill="none" stroke="#548235" stroke-width="6.4" stroke-linejoin="round" stroke-linecap="round" />
<path d="M943.6 339.4 L943.6 341.0" fill="none" stroke="#b9a51a" stroke-width="5.2" stroke-linejoin="round" stroke-linecap="round" />
<path d="M1096.4 347.3 L1180.5 347.3" fill="none" stroke="#548235" stroke-width="3.6" stroke-linejoin="round" stroke-linecap="round" />
<path d="M1291.6 350.2 L1295.4 351.6 L1305.1 366.6 L1314.4 351.6 L1317.9 350.2" fill="none" stroke="#548235" stroke-width="4.8" stroke-linejoin="round" stroke-linecap="round" stroke-linejoin="miter"/>
<path d="M952.0 346.9 L1040.0 346.6 L1105.7 346.6" fill="none" stroke="#e60000" stroke-width="1.5" stroke-linejoin="round" stroke-linecap="round" />
<path d="M1098.0 346.6 C1100.0 346.7 1106.0 346.9 1110.0 347.2 C1114.0 347.5 1120.2 348.4 1122.2 348.7" fill="none" stroke="#e60000" stroke-width="2.8" stroke-linejoin="round" stroke-linecap="round" />
<path d="M1116.0 348.2 C1117.3 348.4 1121.1 348.7 1124.0 349.4 C1126.9 350.1 1131.1 351.6 1133.6 352.3 C1136.1 353.0 1137.3 353.4 1139.0 353.6 C1140.7 353.8 1142.3 353.0 1144.0 353.6 C1145.7 354.2 1148.1 356.4 1148.9 357.0" fill="none" stroke="#e60000" stroke-width="5.2" stroke-linejoin="round" stroke-linecap="round" />
<path d="M1144.5 352.5 L1149.0 353.0 L1152.4 357.0 L1156.6 357.6 L1159.6 363.0 L1161.4 372.8 L1158.3 371.2 L1156.8 368.3 L1154.5 370.2 L1149.6 370.0 L1149.8 362.0 L1146.0 357.5Z" fill="#e60000" stroke="#e60000" stroke-width="1" stroke-linejoin="round"/>
<path d="M1160.9 371.5 C1161.2 370.6 1162.3 367.6 1163.0 366.0 C1163.7 364.4 1163.8 364.2 1165.1 362.1 C1166.4 360.0 1169.0 356.0 1171.1 353.6 C1173.2 351.2 1176.8 348.9 1177.9 348.0" fill="none" stroke="#e60000" stroke-width="5.2" stroke-linejoin="round" stroke-linecap="round" />
<path d="M1201.3 355.6 L1206.4 355.6 L1203.9 351.6Z" fill="#e60000" stroke="#e60000" stroke-width="1" stroke-linejoin="round"/>
<path d="M943.6 342.6 L943.6 350.6" fill="none" stroke="#5b9bd5" stroke-width="7" stroke-linejoin="round" stroke-linecap="round" stroke-linecap="butt"/>
<path d="M943.6 351.3 C946.3 351.2 950.6 350.8 960.0 350.6 C969.4 350.4 986.7 350.4 1000.0 350.3 C1013.3 350.2 1025.5 350.0 1040.0 350.0 C1054.5 350.0 1076.2 349.9 1087.0 350.2 C1097.8 350.4 1099.7 351.0 1104.6 351.5 C1109.5 352.0 1113.1 352.5 1116.3 353.2 C1119.5 353.9 1121.7 354.6 1124.0 355.5 C1126.3 356.4 1128.0 356.8 1130.2 358.7 C1132.4 360.6 1135.0 363.8 1137.0 367.2 C1139.0 370.6 1140.5 374.6 1142.1 379.1 C1143.7 383.7 1145.1 389.1 1146.4 394.5 C1147.7 399.9 1148.8 405.8 1149.8 411.5 C1150.8 417.2 1151.6 423.4 1152.3 428.5 C1153.0 433.6 1153.5 438.6 1154.0 442.1 C1154.5 445.6 1155.3 448.4 1155.6 449.6" fill="none" stroke="#5b9bd5" stroke-width="6.6" stroke-linejoin="round" stroke-linecap="round" />
<path d="M1155.0 451.2 L1156.6 442.0 L1156.6 425.0 L1156.6 408.0 L1157.8 391.0 L1159.1 381.0 L1160.9 374.0 L1163.4 365.5 L1168.5 357.0 L1175.0 351.2 L1192.0 350.8 L1190.0 356.0 L1187.5 362.0 L1183.5 365.5 L1177.0 366.0 L1175.8 374.0 L1171.1 381.0 L1167.7 396.0 L1163.4 408.0 L1162.6 425.0 L1160.9 442.0 L1158.2 451.5 L1156.4 452.6Z" fill="#5b9bd5" stroke="#5b9bd5" stroke-width="1" stroke-linejoin="round"/>
<path d="M1179.9 354.0 L1180.0 388.2" fill="none" stroke="#5b9bd5" stroke-width="6.2" stroke-linejoin="round" stroke-linecap="round" />
<path d="M1164.8 402.1h0M1164.8 408.0h0M1164.8 413.2h0M1165.2 420.0h0M1165.6 426.8h0M1165.2 432.8h0" stroke="#5b9bd5" stroke-width="5.6" stroke-linecap="round" fill="none"/>
<path d="M1176.0 350.3 L1192.0 349.3 L1230.0 348.5 L1270.0 348.2 L1382.0 348.0" fill="none" stroke="#5b9bd5" stroke-width="6.4" stroke-linejoin="round" stroke-linecap="round" />
</svg>
</body></html>
